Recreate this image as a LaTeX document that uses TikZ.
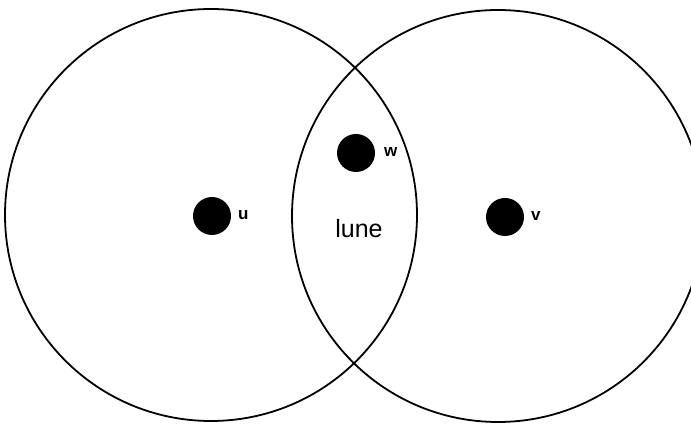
\documentclass[tikz,border=0pt]{standalone}
\usepackage{fontspec}
\setmainfont{Liberation Sans}
\begin{document}
\begin{tikzpicture}[x=1pt,y=-1pt,
  ring/.style={circle,draw=black,line width=1.8pt,minimum size=412pt,inner sep=0pt},
  dot/.style={circle,fill=black,minimum size=38pt,inner sep=0pt},
  lbl/.style={font=\fontsize{17}{17}\selectfont\bfseries,inner sep=0pt,anchor=west}]
\useasboundingbox (0,0) rectangle (691,427);
\node[ring] (L) at (211,215) {};
\node[ring] (R) at (498,216) {};
\node[dot] (u) at (212,216) {};
\node[dot] (w) at (356,153) {};
\node[dot] (v) at (505,217) {};
\node[lbl] (ul) at (238,215) {u};
\node[lbl] (wl) at (384,152) {w};
\node[lbl] (vl) at (531,216) {v};
\node[font=\fontsize{25}{25}\selectfont,inner sep=0pt] (lune) at (359,229) {lune};
\end{tikzpicture}
\end{document}
